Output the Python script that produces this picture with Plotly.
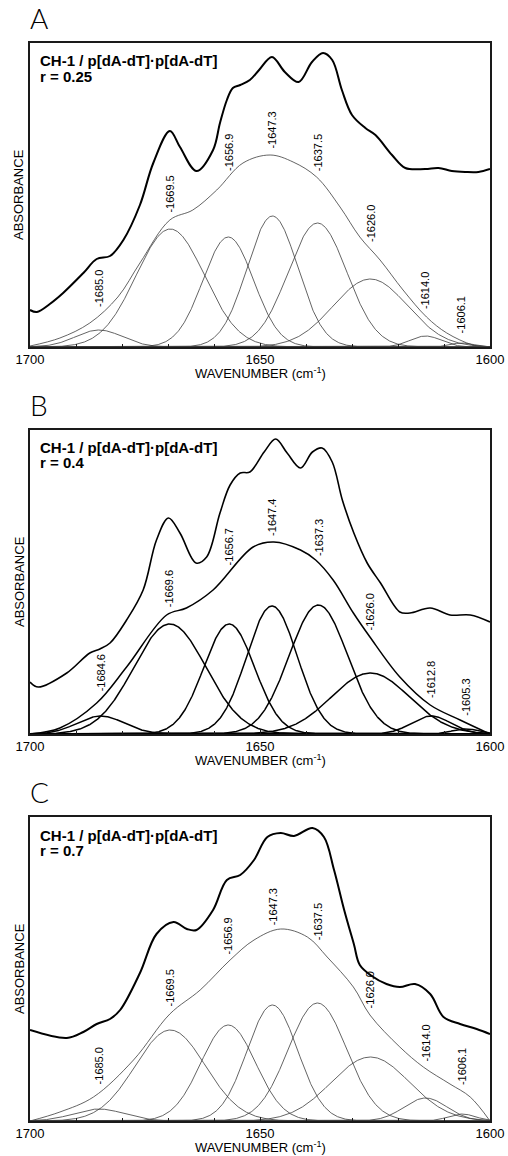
import numpy as np
import plotly.graph_objects as go

# ---------------------------------------------------------------------------
# Amide I region of CH-1 / p[dA-dT]·p[dA-dT] complexes at three ratios r.
# Absorbance values are in arbitrary units (0 = baseline of the fit).
# ---------------------------------------------------------------------------
panel_letters = ["A", "B", "C"]
ratios = ["0.25", "0.4", "0.7"]
sample_name = "CH-1 / p[dA-dT]·p[dA-dT]"

# measured spectra (drawn offset above the fitted envelope)
a_spec_wn = [1700.0, 1698.5, 1695.7, 1692.8, 1688.4, 1685.5, 1682.6, 1679.7, 1676.1, 1673.2,
             1669.6, 1667.4, 1663.8, 1660.2, 1658.7, 1657.2, 1655.9, 1654.3, 1652.2, 1650.2,
             1647.4, 1644.6, 1641.6, 1638.7, 1636.3, 1634.3, 1632.2, 1630.0, 1627.1, 1624.9,
             1621.3, 1618.4, 1614.1, 1611.2, 1608.3, 1605.4, 1602.5, 1600.0]
a_spec_abs = [37, 35, 43, 54, 74, 88, 91, 107, 142, 184,
              216, 200, 176, 197, 224, 247, 259, 262, 267, 277,
              290, 275, 265, 285, 294, 287, 257, 232, 219, 212,
              192, 179, 178, 179, 176, 175, 175, 178]

b_spec_wn = [1700.0, 1698.2, 1692.0, 1687.0, 1684.8, 1682.6, 1679.0, 1675.4, 1672.5, 1669.9,
             1667.4, 1663.9, 1661.6, 1658.7, 1656.5, 1654.3, 1652.2, 1649.1, 1646.6, 1644.1,
             1641.2, 1638.6, 1636.5, 1634.3, 1632.1, 1629.6, 1626.7, 1623.8, 1619.6, 1617.4,
             1613.0, 1608.7, 1604.3, 1600.0]
b_spec_abs = [52, 47, 61, 81, 85, 91, 114, 144, 194, 216,
              201, 171, 177, 221, 249, 261, 262, 282, 295, 281,
              266, 282, 286, 272, 234, 201, 171, 151, 122, 121,
              126, 119, 119, 112]

c_spec_wn = [1700.0, 1692.0, 1688.4, 1685.5, 1682.6, 1680.4, 1676.1, 1672.5, 1668.8, 1665.9,
             1663.8, 1660.2, 1657.2, 1654.3, 1651.3, 1648.4, 1645.5, 1642.6, 1638.6, 1636.1,
             1633.9, 1631.7, 1629.6, 1628.3, 1625.7, 1622.5, 1619.6, 1616.3, 1613.0, 1610.1,
             1606.5, 1602.9, 1600.0]
c_spec_abs = [91, 83, 89, 97, 102, 111, 148, 187, 199, 192,
              191, 211, 241, 246, 261, 284, 288, 285, 293, 284,
              251, 211, 177, 156, 145, 137, 134, 137, 127, 104,
              97, 92, 87]

# fitted envelopes (sum of bands)
a_fit_wn = [1700.0, 1693.5, 1687.0, 1680.9, 1676.1, 1669.6, 1664.6, 1659.4, 1653.7, 1647.8,
            1642.8, 1637.7, 1632.6, 1628.3, 1623.9, 1618.9, 1613.8, 1609.4, 1603.7, 1600.0]
a_fit_abs = [1, 9, 24, 50, 84, 127, 137, 157, 184, 192,
             185, 170, 140, 110, 87, 57, 30, 14, 2, 0]

b_fit_wn = [1700.0, 1693.5, 1685.5, 1679.0, 1670.3, 1666.0, 1660.2, 1651.5, 1647.0, 1641.2,
            1637.9, 1634.1, 1629.7, 1626.1, 1619.6, 1613.0, 1606.5, 1600.0]
b_fit_abs = [0, 6, 31, 67, 119, 126, 144, 187, 192, 184,
             174, 154, 121, 97, 57, 29, 14, 0]

c_fit_wn = [1700.0, 1693.5, 1686.2, 1677.5, 1669.6, 1663.0, 1656.5, 1651.3, 1645.5, 1639.7,
            1635.4, 1629.7, 1626.1, 1619.6, 1614.5, 1608.7, 1604.3, 1600.0]
c_fit_abs = [0, 9, 24, 61, 107, 131, 161, 181, 192, 184,
             164, 134, 106, 74, 54, 37, 24, 0]

# Gaussian band components: position (cm-1), height, full width at half height
a_band_pos = [1685.0, 1669.5, 1656.9, 1647.3, 1637.5, 1626.0, 1614.0, 1606.1]
a_band_height = [17, 118, 110, 131, 124, 68, 11, 4]
a_band_fwhm = [12, 17.5, 13, 13, 15, 19, 8, 6]

b_band_pos = [1684.6, 1669.6, 1656.7, 1647.4, 1637.3, 1626.0, 1612.8, 1605.3]
b_band_height = [18, 110, 110, 128, 129, 61, 18, 5]
b_band_fwhm = [12, 18.5, 13, 13, 15, 20, 10, 7]

c_band_pos = [1685.0, 1669.5, 1656.9, 1647.3, 1637.5, 1626.0, 1614.0, 1606.1]
c_band_height = [12, 91, 96, 116, 118, 64, 23, 7]
c_band_fwhm = [13, 18, 14, 13, 15, 20, 11, 7]

panels = [
    dict(spec=(a_spec_wn, a_spec_abs), fit=(a_fit_wn, a_fit_abs),
         bands=(a_band_pos, a_band_height, a_band_fwhm), bold=False),
    dict(spec=(b_spec_wn, b_spec_abs), fit=(b_fit_wn, b_fit_abs),
         bands=(b_band_pos, b_band_height, b_band_fwhm), bold=True),
    dict(spec=(c_spec_wn, c_spec_abs), fit=(c_fit_wn, c_fit_abs),
         bands=(c_band_pos, c_band_height, c_band_fwhm), bold=False),
]

# ---------------------------------------------------------------------------
# page geometry (pixels)
W, H = 508, 1156
PLOT_LEFT, PLOT_RIGHT = 30, 490
PLOT_TOP0, PLOT_H, PANEL_STEP = 43, 304, 387
Y_MAX = 304

FONT = "Arial, 'Liberation Sans', sans-serif"


def px_x(px):
    return px / W


def px_y(py):
    return 1 - py / H


grid = np.linspace(1700, 1600, 1001)

fig = go.Figure()
annotations = []

for i, p in enumerate(panels):
    top = PLOT_TOP0 + i * PANEL_STEP
    bottom = top + PLOT_H
    xa = "x" if i == 0 else f"x{i + 1}"
    ya = "y" if i == 0 else f"y{i + 1}"

    thin_w = 1.5 if p["bold"] else 0.8
    thin_c = "#000000" if p["bold"] else "#3c3c3c"

    pos, hgt, fwhm = p["bands"]
    for c0, h0, w0 in zip(pos, hgt, fwhm):
        sigma = w0 / (2 * np.sqrt(2 * np.log(2)))
        fig.add_trace(go.Scatter(
            x=grid, y=h0 * np.exp(-(grid - c0) ** 2 / (2 * sigma ** 2)),
            mode="lines", line=dict(color=thin_c, width=thin_w),
            xaxis=xa, yaxis=ya, showlegend=False, hoverinfo="skip"))

    fwn, fab = p["fit"]
    fig.add_trace(go.Scatter(
        x=fwn, y=fab, mode="lines",
        line=dict(color=thin_c, width=thin_w, shape="spline", smoothing=1.0),
        xaxis=xa, yaxis=ya, showlegend=False, hoverinfo="skip"))

    swn, sab = p["spec"]
    fig.add_trace(go.Scatter(
        x=swn, y=sab, mode="lines",
        line=dict(color="#000000", width=1.6 if p["bold"] else 2.0,
                  shape="spline", smoothing=1.0),
        xaxis=xa, yaxis=ya, showlegend=False, hoverinfo="skip"))

    # band position labels just above the envelope
    env_x = np.array(fwn[::-1])
    env_y = np.array(fab[::-1])
    for c0 in pos:
        annotations.append(dict(
            x=c0, y=float(np.interp(c0, env_x, env_y)), xref=xa, yref=ya,
            text=f"-{c0:.1f}", textangle=-90, showarrow=False,
            xanchor="center", yanchor="bottom", yshift=5,
            font=dict(family=FONT, size=11, color="#000000")))

    dom_y = [px_y(bottom), px_y(top)]
    axis_common = dict(showline=True, linecolor="#1a1a1a", linewidth=1.6, mirror=True,
                       showgrid=False, zeroline=False, automargin=False)
    fig.update_layout(**{
        ("xaxis" if i == 0 else f"xaxis{i + 1}"): dict(
            domain=[px_x(PLOT_LEFT), px_x(PLOT_RIGHT)], range=[1700, 1600],
            anchor=ya, tickvals=[1700, 1650, 1600], ticks="inside", ticklen=4,
            tickcolor="#1a1a1a", tickfont=dict(family=FONT, size=13, color="#000000"),
            minor=dict(dtick=10, ticks="inside", ticklen=3, tickcolor="#1a1a1a"),
            **axis_common),
        ("yaxis" if i == 0 else f"yaxis{i + 1}"): dict(
            domain=dom_y, range=[0, Y_MAX], anchor=xa, showticklabels=False,
            ticks="", **axis_common),
    })

    # panel letter
    annotations.append(dict(
        x=px_x(28), y=px_y(top - 25), xref="paper", yref="paper", text=panel_letters[i],
        showarrow=False, xanchor="left", yanchor="middle",
        font=dict(family="Lato, 'DejaVu Sans', sans-serif", size=28, color="#000000",
                  weight=300)))
    # sample and ratio
    annotations.append(dict(
        x=px_x(38), y=px_y(top + 18), xref="paper", yref="paper",
        text=f"<b>{sample_name}</b>", showarrow=False, xanchor="left", yanchor="middle",
        font=dict(family=FONT, size=15, color="#000000")))
    annotations.append(dict(
        x=px_x(38), y=px_y(top + 33), xref="paper", yref="paper",
        text=f"<b>r = {ratios[i]}</b>", showarrow=False, xanchor="left", yanchor="middle",
        font=dict(family=FONT, size=15, color="#000000")))
    # axis titles
    annotations.append(dict(
        x=px_x(19), y=px_y((top + bottom) / 2), xref="paper", yref="paper",
        text="ABSORBANCE", textangle=-90, showarrow=False, xanchor="center",
        yanchor="middle", font=dict(family=FONT, size=13, color="#000000")))
    annotations.append(dict(
        x=px_x((PLOT_LEFT + PLOT_RIGHT) / 2), y=px_y(bottom + 26), xref="paper",
        yref="paper", text="WAVENUMBER (cm<sup>-1</sup>)", showarrow=False,
        xanchor="center", yanchor="middle",
        font=dict(family=FONT, size=13, color="#000000")))

fig.update_layout(
    width=W, height=H, autosize=False,
    margin=dict(l=0, r=0, t=0, b=0, pad=0, autoexpand=False),
    paper_bgcolor="white", plot_bgcolor="white",
    annotations=annotations, showlegend=False,
)

fig.write_html("out.html")
